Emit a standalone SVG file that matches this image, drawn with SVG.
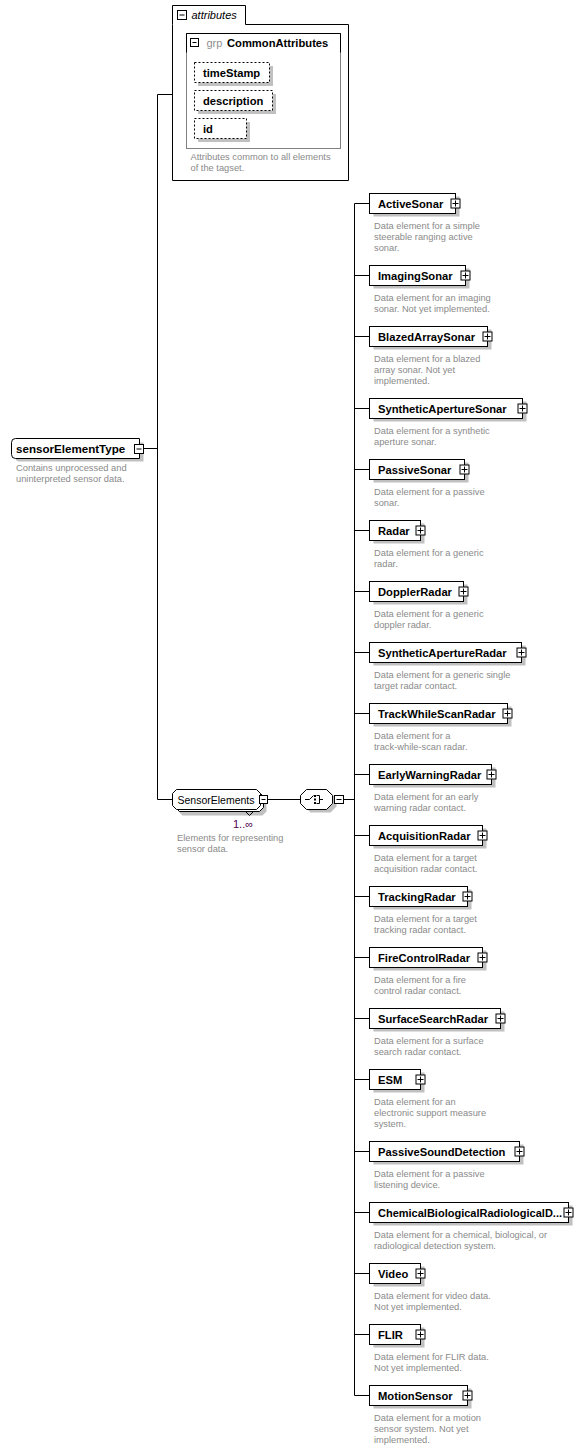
<svg xmlns="http://www.w3.org/2000/svg" width="583" height="1450" viewBox="0 0 583 1450">
<style>
text{font-family:"Liberation Sans",Arial,sans-serif}
.bg{fill:#fff}
.box{fill:#fff;stroke:#000;stroke-width:1}
.sh{fill:#c0c0c0}
.nm{font-size:11.2px;font-weight:bold;fill:#000}
.ds{font-size:9.3px;fill:#8a8a8a}
.pb{fill:#fff;stroke:#000;stroke-width:1}
.pl{fill:none;stroke:#000;stroke-width:1}
.ln{fill:none;stroke:#000;stroke-width:1}
.att{fill:#fff;stroke:#000;stroke-width:1;stroke-dasharray:2,2}
</style>
<rect class="bg" x="0" y="0" width="583" height="1450"/>

<g id="connectors">
<path class="ln" d="M157.5,94.5 V799.5 M157.5,94.5 H172.5 M143.5,448.5 H157.5 M157.5,799.5 H172.5 M267.5,799.5 H300.5 M343.5,799.5 H354.5 M354.5,203.5 V1395.5"/>
<path class="ln" d="M354.5,203.5 H369.5 M354.5,275.5 H369.5 M354.5,336.5 H369.5 M354.5,408.5 H369.5 M354.5,469.5 H369.5 M354.5,530.5 H369.5 M354.5,591.5 H369.5 M354.5,652.5 H369.5 M354.5,713.5 H369.5 M354.5,774.5 H369.5 M354.5,835.5 H369.5 M354.5,896.5 H369.5 M354.5,957.5 H369.5 M354.5,1018.5 H369.5 M354.5,1079.5 H369.5 M354.5,1151.5 H369.5 M354.5,1212.5 H369.5 M354.5,1273.5 H369.5 M354.5,1334.5 H369.5 M354.5,1395.5 H369.5"/>
</g>

<g id="attributes">
<path class="box" d="M172.5,24.5 V5.5 H245.5 V24.5 H348.5 V180.5 H172.5 Z"/>
<rect class="pb" x="177.5" y="10.5" width="9" height="9"/>
<path class="pl" d="M179.5,15 H184.5"/>
<text x="191.5" y="19" style="font-size:11px;font-style:italic">attributes</text>
<rect x="186.5" y="33.5" width="154" height="115" fill="none" stroke="#808080"/>
<path class="ln" d="M186.5,52.5 V33.5 H340.5 V52.5"/>
<rect class="pb" x="190.5" y="38.5" width="8" height="8"/>
<path class="pl" d="M192.5,42.5 H196.5"/>
<text x="206.5" y="47" style="font-size:11px;fill:#909090">grp</text>
<text class="nm" x="227" y="47">CommonAttributes</text>
<g id="attr-timeStamp">
<rect class="sh" x="198" y="66" width="75" height="20"/>
<rect class="att" x="194.5" y="62.5" width="75" height="20"/>
<text class="nm" x="203" y="76.5">timeStamp</text>
</g>
<g id="attr-description">
<rect class="sh" x="198" y="94" width="78" height="20"/>
<rect class="att" x="194.5" y="90.5" width="78" height="20"/>
<text class="nm" x="203" y="104.5">description</text>
</g>
<g id="attr-id">
<rect class="sh" x="198" y="122" width="52" height="20"/>
<rect class="att" x="194.5" y="118.5" width="52" height="20"/>
<text class="nm" x="203" y="132.5">id</text>
</g>
<text class="ds" x="190.5" y="160">Attributes common to all elements</text>
<text class="ds" x="190.5" y="171">of the tagset.</text>
</g>

<g id="sensorElementType">
<path class="sh" d="M19.5,442.5 H143.5 V461.5 H19.5 Q15.5,461.5 15.5,457.5 V446.5 Q15.5,442.5 19.5,442.5 Z"/>
<path class="box" d="M15.5,438.5 H139.5 V458.5 H15.5 Q11.5,458.5 11.5,454.5 V442.5 Q11.5,438.5 15.5,438.5 Z"/>
<text class="nm" x="16" y="452.5" style="font-size:11.6px">sensorElementType</text>
<rect class="pb" x="134.5" y="444.5" width="9" height="9"/>
<path class="pl" d="M136.5,449 H141.5"/>
<text class="ds" x="16" y="471">Contains unprocessed and</text>
<text class="ds" x="16" y="482">uninterpreted sensor data.</text>
</g>

<g id="SensorElements">
<path class="sh" d="M182.5,796.5 H262.5 L266.5,800.5 V811.5 L262.5,815.5 H182.5 L178.5,811.5 V800.5 Z"/>
<path class="box" d="M179.5,792.5 H259.5 L263.5,796.5 V807.5 L259.5,811.5 H179.5 L175.5,807.5 V796.5 Z"/>
<path class="box" d="M176.5,789.5 H256.5 L260.5,793.5 V805.5 L256.5,809.5 H176.5 L172.5,805.5 V793.5 Z"/>
<path class="ln" d="M245.5,811.5 L249.5,815.5 L253.5,811.5"/>
<text x="177.5" y="803.5" style="font-size:10.5px">SensorElements</text>
<rect class="pb" x="259.5" y="795.5" width="8" height="8"/>
<path class="pl" d="M261.5,799.5 H265.5"/>
<text x="233" y="827.5" style="font-size:11px;fill:#500050">1..∞</text>
<text class="ds" x="177" y="841">Elements for representing</text>
<text class="ds" x="177" y="852">sensor data.</text>
</g>

<g id="choice">
<path class="sh" d="M310.5,792.5 H330.5 L336.5,798.5 V806.5 L330.5,812.5 H310.5 L304.5,806.5 V798.5 Z"/>
<path class="box" d="M306.5,789.5 H326.5 L332.5,795.5 V803.5 L326.5,809.5 H306.5 L300.5,803.5 V795.5 Z"/>
<path class="ln" d="M305,799.5 H309.5 L313.5,795.5 M316.5,795.5 H319.5 V803.5 H316.5 M319.5,799.5 H323"/>
<rect x="314" y="795" width="2" height="2" fill="#000"/>
<rect x="314" y="798.5" width="2" height="2" fill="#000"/>
<rect x="314" y="802" width="2" height="2" fill="#000"/>
<rect class="pb" x="334.5" y="795.5" width="9" height="8"/>
<path class="pl" d="M336.5,799.5 H341.5"/>
</g>

<g id="ActiveSonar" transform="translate(0,203.5)">
<rect class="sh" x="373.5" y="-7" width="86" height="20"/>
<rect class="box" x="369.5" y="-10" width="86" height="20"/>
<text class="nm" x="378" y="4">ActiveSonar</text>
<rect class="pb" x="451" y="-4.5" width="9" height="9"/>
<path class="pl" d="M452.5,0 H458.5 M455.5,-3 V3"/>
<text class="ds" x="374" y="25.5">Data element for a simple</text>
<text class="ds" x="374" y="36.3">steerable ranging active</text>
<text class="ds" x="374" y="47.1">sonar.</text>
</g>
<g id="ImagingSonar" transform="translate(0,275.5)">
<rect class="sh" x="373.5" y="-7" width="96" height="20"/>
<rect class="box" x="369.5" y="-10" width="96" height="20"/>
<text class="nm" x="378" y="4">ImagingSonar</text>
<rect class="pb" x="461" y="-4.5" width="9" height="9"/>
<path class="pl" d="M462.5,0 H468.5 M465.5,-3 V3"/>
<text class="ds" x="374" y="25.5">Data element for an imaging</text>
<text class="ds" x="374" y="36.3">sonar. Not yet implemented.</text>
</g>
<g id="BlazedArraySonar" transform="translate(0,336.5)">
<rect class="sh" x="373.5" y="-7" width="118" height="20"/>
<rect class="box" x="369.5" y="-10" width="118" height="20"/>
<text class="nm" x="378" y="4">BlazedArraySonar</text>
<rect class="pb" x="483" y="-4.5" width="9" height="9"/>
<path class="pl" d="M484.5,0 H490.5 M487.5,-3 V3"/>
<text class="ds" x="374" y="25.5">Data element for a blazed</text>
<text class="ds" x="374" y="36.3">array sonar. Not yet</text>
<text class="ds" x="374" y="47.1">implemented.</text>
</g>
<g id="SyntheticApertureSonar" transform="translate(0,408.5)">
<rect class="sh" x="373.5" y="-7" width="153" height="20"/>
<rect class="box" x="369.5" y="-10" width="153" height="20"/>
<text class="nm" x="378" y="4">SyntheticApertureSonar</text>
<rect class="pb" x="518" y="-4.5" width="9" height="9"/>
<path class="pl" d="M519.5,0 H525.5 M522.5,-3 V3"/>
<text class="ds" x="374" y="25.5">Data element for a synthetic</text>
<text class="ds" x="374" y="36.3">aperture sonar.</text>
</g>
<g id="PassiveSonar" transform="translate(0,469.5)">
<rect class="sh" x="373.5" y="-7" width="95" height="20"/>
<rect class="box" x="369.5" y="-10" width="95" height="20"/>
<text class="nm" x="378" y="4">PassiveSonar</text>
<rect class="pb" x="460" y="-4.5" width="9" height="9"/>
<path class="pl" d="M461.5,0 H467.5 M464.5,-3 V3"/>
<text class="ds" x="374" y="25.5">Data element for a passive</text>
<text class="ds" x="374" y="36.3">sonar.</text>
</g>
<g id="Radar" transform="translate(0,530.5)">
<rect class="sh" x="373.5" y="-7" width="51" height="20"/>
<rect class="box" x="369.5" y="-10" width="51" height="20"/>
<text class="nm" x="378" y="4">Radar</text>
<rect class="pb" x="416" y="-4.5" width="9" height="9"/>
<path class="pl" d="M417.5,0 H423.5 M420.5,-3 V3"/>
<text class="ds" x="374" y="25.5">Data element for a generic</text>
<text class="ds" x="374" y="36.3">radar.</text>
</g>
<g id="DopplerRadar" transform="translate(0,591.5)">
<rect class="sh" x="373.5" y="-7" width="94" height="20"/>
<rect class="box" x="369.5" y="-10" width="94" height="20"/>
<text class="nm" x="378" y="4">DopplerRadar</text>
<rect class="pb" x="459" y="-4.5" width="9" height="9"/>
<path class="pl" d="M460.5,0 H466.5 M463.5,-3 V3"/>
<text class="ds" x="374" y="25.5">Data element for a generic</text>
<text class="ds" x="374" y="36.3">doppler radar.</text>
</g>
<g id="SyntheticApertureRadar" transform="translate(0,652.5)">
<rect class="sh" x="373.5" y="-7" width="152" height="20"/>
<rect class="box" x="369.5" y="-10" width="152" height="20"/>
<text class="nm" x="378" y="4">SyntheticApertureRadar</text>
<rect class="pb" x="517" y="-4.5" width="9" height="9"/>
<path class="pl" d="M518.5,0 H524.5 M521.5,-3 V3"/>
<text class="ds" x="374" y="25.5">Data element for a generic single</text>
<text class="ds" x="374" y="36.3">target radar contact.</text>
</g>
<g id="TrackWhileScanRadar" transform="translate(0,713.5)">
<rect class="sh" x="373.5" y="-7" width="138" height="20"/>
<rect class="box" x="369.5" y="-10" width="138" height="20"/>
<text class="nm" x="378" y="4">TrackWhileScanRadar</text>
<rect class="pb" x="503" y="-4.5" width="9" height="9"/>
<path class="pl" d="M504.5,0 H510.5 M507.5,-3 V3"/>
<text class="ds" x="374" y="25.5">Data element for a</text>
<text class="ds" x="374" y="36.3">track-while-scan radar.</text>
</g>
<g id="EarlyWarningRadar" transform="translate(0,774.5)">
<rect class="sh" x="373.5" y="-7" width="122" height="20"/>
<rect class="box" x="369.5" y="-10" width="122" height="20"/>
<text class="nm" x="378" y="4">EarlyWarningRadar</text>
<rect class="pb" x="487" y="-4.5" width="9" height="9"/>
<path class="pl" d="M488.5,0 H494.5 M491.5,-3 V3"/>
<text class="ds" x="374" y="25.5">Data element for an early</text>
<text class="ds" x="374" y="36.3">warning radar contact.</text>
</g>
<g id="AcquisitionRadar" transform="translate(0,835.5)">
<rect class="sh" x="373.5" y="-7" width="113" height="20"/>
<rect class="box" x="369.5" y="-10" width="113" height="20"/>
<text class="nm" x="378" y="4">AcquisitionRadar</text>
<rect class="pb" x="478" y="-4.5" width="9" height="9"/>
<path class="pl" d="M479.5,0 H485.5 M482.5,-3 V3"/>
<text class="ds" x="374" y="25.5">Data element for a target</text>
<text class="ds" x="374" y="36.3">acquisition radar contact.</text>
</g>
<g id="TrackingRadar" transform="translate(0,896.5)">
<rect class="sh" x="373.5" y="-7" width="98" height="20"/>
<rect class="box" x="369.5" y="-10" width="98" height="20"/>
<text class="nm" x="378" y="4">TrackingRadar</text>
<rect class="pb" x="463" y="-4.5" width="9" height="9"/>
<path class="pl" d="M464.5,0 H470.5 M467.5,-3 V3"/>
<text class="ds" x="374" y="25.5">Data element for a target</text>
<text class="ds" x="374" y="36.3">tracking radar contact.</text>
</g>
<g id="FireControlRadar" transform="translate(0,957.5)">
<rect class="sh" x="373.5" y="-7" width="113" height="20"/>
<rect class="box" x="369.5" y="-10" width="113" height="20"/>
<text class="nm" x="378" y="4">FireControlRadar</text>
<rect class="pb" x="478" y="-4.5" width="9" height="9"/>
<path class="pl" d="M479.5,0 H485.5 M482.5,-3 V3"/>
<text class="ds" x="374" y="25.5">Data element for a fire</text>
<text class="ds" x="374" y="36.3">control radar contact.</text>
</g>
<g id="SurfaceSearchRadar" transform="translate(0,1018.5)">
<rect class="sh" x="373.5" y="-7" width="131" height="20"/>
<rect class="box" x="369.5" y="-10" width="131" height="20"/>
<text class="nm" x="378" y="4">SurfaceSearchRadar</text>
<rect class="pb" x="496" y="-4.5" width="9" height="9"/>
<path class="pl" d="M497.5,0 H503.5 M500.5,-3 V3"/>
<text class="ds" x="374" y="25.5">Data element for a surface</text>
<text class="ds" x="374" y="36.3">search radar contact.</text>
</g>
<g id="ESM" transform="translate(0,1079.5)">
<rect class="sh" x="373.5" y="-7" width="51" height="20"/>
<rect class="box" x="369.5" y="-10" width="51" height="20"/>
<text class="nm" x="378" y="4">ESM</text>
<rect class="pb" x="416" y="-4.5" width="9" height="9"/>
<path class="pl" d="M417.5,0 H423.5 M420.5,-3 V3"/>
<text class="ds" x="374" y="25.5">Data element for an</text>
<text class="ds" x="374" y="36.3">electronic support measure</text>
<text class="ds" x="374" y="47.1">system.</text>
</g>
<g id="PassiveSoundDetection" transform="translate(0,1151.5)">
<rect class="sh" x="373.5" y="-7" width="150" height="20"/>
<rect class="box" x="369.5" y="-10" width="150" height="20"/>
<text class="nm" x="378" y="4">PassiveSoundDetection</text>
<rect class="pb" x="515" y="-4.5" width="9" height="9"/>
<path class="pl" d="M516.5,0 H522.5 M519.5,-3 V3"/>
<text class="ds" x="374" y="25.5">Data element for a passive</text>
<text class="ds" x="374" y="36.3">listening device.</text>
</g>
<g id="ChemicalBiologicalRadiologicalDetection" transform="translate(0,1212.5)">
<rect class="sh" x="373.5" y="-7" width="199" height="20"/>
<rect class="box" x="369.5" y="-10" width="199" height="20"/>
<text class="nm" x="378" y="4" textLength="184" lengthAdjust="spacingAndGlyphs">ChemicalBiologicalRadiologicalD...</text>
<rect class="pb" x="564" y="-4.5" width="9" height="9"/>
<path class="pl" d="M565.5,0 H571.5 M568.5,-3 V3"/>
<text class="ds" x="374" y="25.5">Data element for a chemical, biological, or</text>
<text class="ds" x="374" y="36.3">radiological detection system.</text>
</g>
<g id="Video" transform="translate(0,1273.5)">
<rect class="sh" x="373.5" y="-7" width="51" height="20"/>
<rect class="box" x="369.5" y="-10" width="51" height="20"/>
<text class="nm" x="378" y="4">Video</text>
<rect class="pb" x="416" y="-4.5" width="9" height="9"/>
<path class="pl" d="M417.5,0 H423.5 M420.5,-3 V3"/>
<text class="ds" x="374" y="25.5">Data element for video data.</text>
<text class="ds" x="374" y="36.3">Not yet implemented.</text>
</g>
<g id="FLIR" transform="translate(0,1334.5)">
<rect class="sh" x="373.5" y="-7" width="51" height="20"/>
<rect class="box" x="369.5" y="-10" width="51" height="20"/>
<text class="nm" x="378" y="4">FLIR</text>
<rect class="pb" x="416" y="-4.5" width="9" height="9"/>
<path class="pl" d="M417.5,0 H423.5 M420.5,-3 V3"/>
<text class="ds" x="374" y="25.5">Data element for FLIR data.</text>
<text class="ds" x="374" y="36.3">Not yet implemented.</text>
</g>
<g id="MotionSensor" transform="translate(0,1395.5)">
<rect class="sh" x="373.5" y="-7" width="98" height="20"/>
<rect class="box" x="369.5" y="-10" width="98" height="20"/>
<text class="nm" x="378" y="4">MotionSensor</text>
<rect class="pb" x="463" y="-4.5" width="9" height="9"/>
<path class="pl" d="M464.5,0 H470.5 M467.5,-3 V3"/>
<text class="ds" x="374" y="25.5">Data element for a motion</text>
<text class="ds" x="374" y="36.3">sensor system. Not yet</text>
<text class="ds" x="374" y="47.1">implemented.</text>
</g>
</svg>
